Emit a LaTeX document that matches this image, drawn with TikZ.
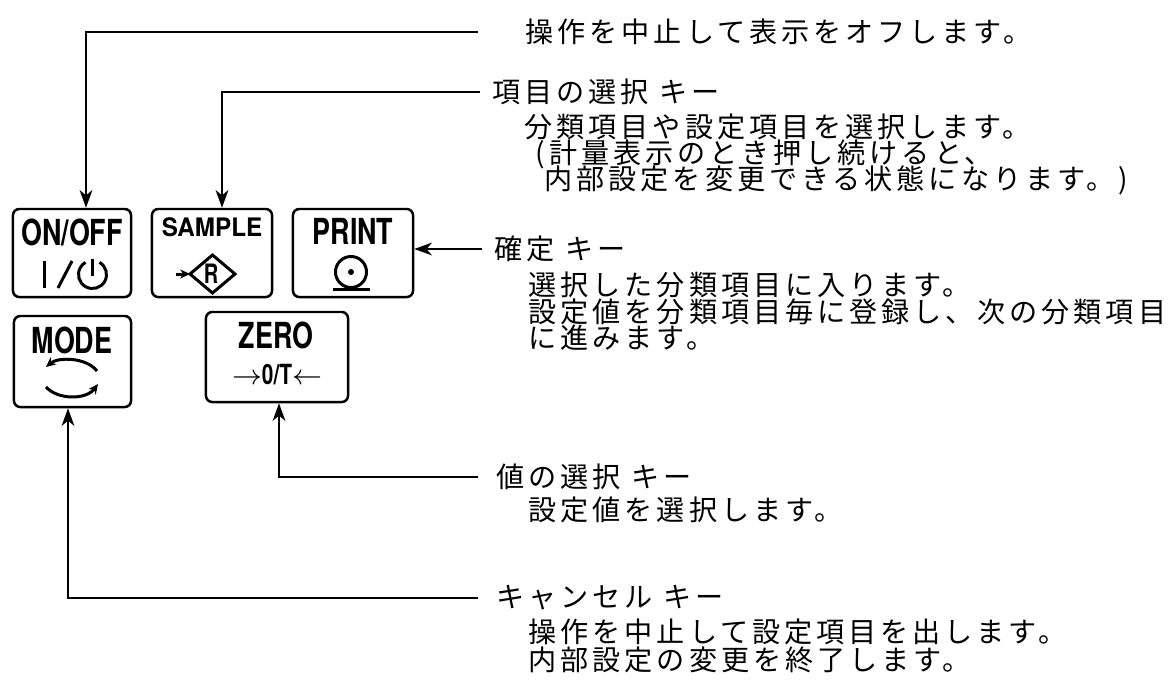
\documentclass[tikz,border=0pt]{standalone}
\usepackage{fontspec}
\usetikzlibrary{arrows.meta,calc}
\newfontfamily\jpfont{Noto Sans CJK JP}[LetterSpace=14]
\newfontfamily\keyfont{TeX Gyre Heros}[FakeStretch=0.75]
\newfontfamily\samplefont{TeX Gyre Heros}[FakeStretch=0.95]

\tikzset{
  keybox/.style={draw, line width=0.7pt, rounded corners=1.8pt, inner sep=0},
  keytext/.style={inner sep=0, font=\keyfont\bfseries\fontsize{10.2pt}{12pt}\selectfont},
  lead/.style={anchor=west, inner ysep=0, inner xsep=0.12cm, font=\jpfont\fontsize{8pt}{9pt}\selectfont},
  desc/.style={anchor=west, inner sep=0, font=\jpfont\fontsize{8pt}{9pt}\selectfont},
  pointer/.style={line width=0.75pt, -{Stealth[length=5pt,width=3.6pt,inset=1.5pt]}},
  icon/.style={line width=0.85pt},
  smalltip/.style={-{Stealth[length=2.8pt,width=2.6pt]}}
}

\begin{document}
\begin{tikzpicture}[x=0.01cm, y=-0.01cm]
    \useasboundingbox (0,0) rectangle (1169,681);

    \node[keybox, minimum width=1.18cm, minimum height=0.88cm] (onoff) at (72,253) {};
    \node[keybox, minimum width=1.20cm, minimum height=0.88cm] (sample) at (212,253) {};
    \node[keybox, minimum width=1.20cm, minimum height=0.88cm] (print) at (353,253) {};
    \node[keybox, minimum width=1.17cm, minimum height=0.91cm] (mode) at (72.5,361.5) {};
    \node[keybox, minimum width=1.42cm, minimum height=0.90cm] (zero) at (277,357) {};

    \node[keytext] (onoff-t) at (72,232) {ON/OFF};
    \node[inner sep=0, font=\samplefont\bfseries\fontsize{7.25pt}{9pt}\selectfont] (sample-t) at (212,227) {SAMPLE};
    \node[keytext] (print-t) at (353,231) {PRINT};
    \node[keytext] (mode-t) at (72,340) {MODE};
    \node[keytext] (zero-t) at (276,335) {ZERO};
    \node[inner sep=0, font=\keyfont\bfseries\fontsize{7.9pt}{9pt}\selectfont] (zero-s) at (277,375) {$\rightarrow$0/T$\leftarrow$};
    \node[inner sep=0, font=\keyfont\bfseries\fontsize{7.6pt}{9pt}\selectfont] (sample-r) at (211,274) {R};

    \draw[icon] (44.5,261) -- (44.5,288);
    \draw[icon] (58,288) -- (72,261);
    \draw[icon] (92.5,259) -- (92.5,276);
    \draw[icon] ([shift={(60:0.14cm)}]92.5,274.5) arc[start angle=60, end angle=-240, radius=0.14cm];

    \draw[icon] (190,274) -- (212.5,255) -- (235,274) -- (212.5,293) -- cycle;
    \draw[icon, smalltip] (176,274) -- (190,274);

    \draw[icon] (351,272) circle[radius=0.155cm];
    \fill (351,272) circle[radius=0.03cm];
    \draw[icon] (333,289) -- (370,289);

    \draw[icon, smalltip] (97,371) .. controls (86,357) and (58,357) .. (46,367);
    \draw[icon, smalltip] (46,387) .. controls (58,400) and (86,400) .. (98,384);

    \node[lead, inner xsep=0.47cm] (off) at (478,32) {操作を中止して表示をオフします。};
    \node[lead] (item) at (480,92) {項目の選択 キー};
    \node[lead] (ok) at (482,249) {確定 キー};
    \node[lead, inner xsep=0.18cm] (val) at (478,477) {値の選択 キー};
    \node[lead, inner xsep=0.18cm] (cancel) at (478,598) {キャンセル キー};

    \node[desc] (item-1) at (524,127) {分類項目や設定項目を選択します。};
    \node[desc] (item-2) at (535,154) {(計量表示のとき押し続けると、};
    \node[desc] (item-3) at (544,180) {内部設定を変更できる状態になります。)};
    \node[desc] (ok-1) at (528,285) {選択した分類項目に入ります。};
    \node[desc] (ok-2) at (528,312) {設定値を分類項目毎に登録し、次の分類項目};
    \node[desc] (ok-3) at (528,338) {に進みます。};
    \node[desc] (val-1) at (528,510) {設定値を選択します。};
    \node[desc] (cancel-1) at (528,632) {操作を中止して設定項目を出します。};
    \node[desc] (cancel-2) at (528,660) {内部設定の変更を終了します。};

    \draw[pointer] (off.west) -| ($(onoff.north)+(14,0)$);
    \draw[pointer] (item.west) -| ($(sample.north)+(10,0)$);
    \draw[pointer] (ok.west) -- (ok.west -| print.east);
    \draw[pointer] (val.west) -| ($(zero.south)+(2,0)$);
    \draw[pointer] (cancel.west) -| ($(mode.south)+(-4.5,0)$);

\end{tikzpicture}
\end{document}
